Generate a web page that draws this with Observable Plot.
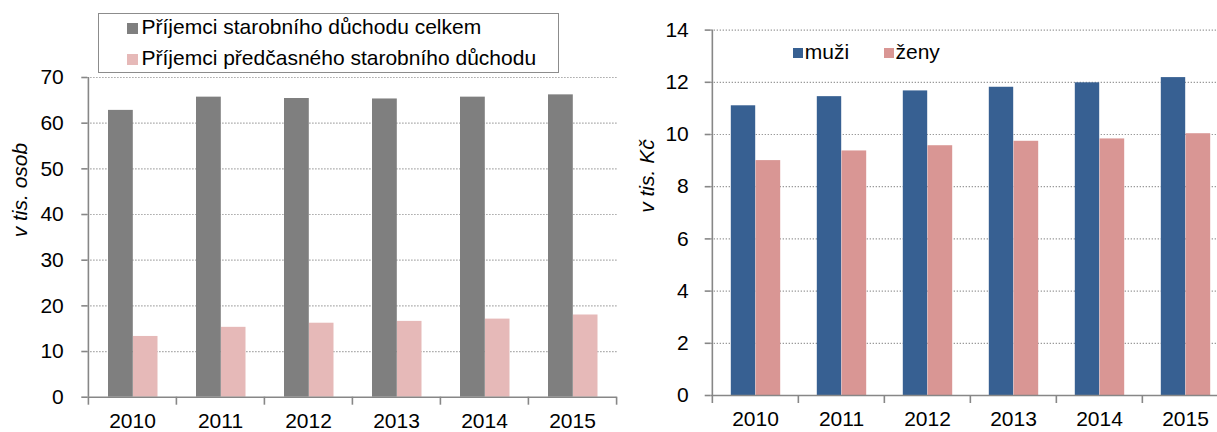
<!DOCTYPE html>
<html>
<head>
<meta charset="utf-8">
<script src="https://cdn.jsdelivr.net/npm/d3@7"></script>
<script src="https://cdn.jsdelivr.net/npm/@observablehq/plot@0.6"></script>
<style>
  html, body { margin: 0; padding: 0; background: #fff; }
  body { font-family: "Liberation Sans", Arial, sans-serif; }
  #wrap { position: relative; width: 1217px; height: 432px; overflow: hidden; background: #fff; }
  .chart { position: absolute; top: 0; width: 620px; height: 432px; }
  .chart svg { max-width: none !important; display: block; }
  .lg { position: absolute; font-size: 21px; line-height: 21px; color: #000; white-space: nowrap; }
  .sw { position: absolute; }
  #lbox { position: absolute; box-sizing: border-box; border: 1.5px solid #8c8c8c; background: #fff; }
</style>
</head>
<body>
<div id="wrap">
  <div id="left" class="chart" style="left:0px"></div>
  <div id="right" class="chart" style="left:617px"></div>
  <div id="legends"></div>
</div>
<script>
// ---- data ----
const years = ["2010", "2011", "2012", "2013", "2014", "2015"];
const celkem = [62.8, 65.7, 65.4, 65.3, 65.7, 66.2];
const predcasne = [13.3, 15.3, 16.2, 16.6, 17.1, 18.0];
const muzi = [11.1, 11.45, 11.67, 11.81, 11.98, 12.18];
const zeny = [9.0, 9.37, 9.57, 9.74, 9.83, 10.03];
const leftTicks = [0, 10, 20, 30, 40, 50, 60, 70];
const rightTicks = [0, 2, 4, 6, 8, 10, 12, 14];
const leftSeriesNames = ["Příjemci starobního důchodu celkem", "Příjemci předčasného starobního důchodu"];
const rightSeriesNames = ["muži", "ženy"];
const leftTitle = "v tis. osob";
const rightTitle = "v tis. Kč";

// ---- styles ----
const axisColor = "#878787";
const gridColor = "#8f8f8f";
const colGray = "#7f7f7f", colLightPink = "#e6b9b8", colBlue = "#376092", colPink = "#d99694";
const font = "'Liberation Sans', Arial, sans-serif";

const leftData = years.map((y, i) => ({year: y, a: celkem[i], b: predcasne[i]}));
const rightData = years.map((y, i) => ({year: y, a: muzi[i], b: zeny[i]}));

function chart({data, width, mL, mR, mT, mB, ydomain, ticks, colA, colB, insA, insB, padY, padX, title, titleDx}) {
  const bw = (width - mL - mR) / years.length;
  return Plot.plot({
    width, height: 432,
    marginLeft: mL, marginRight: mR, marginTop: mT, marginBottom: mB,
    style: {fontFamily: font, fontSize: "21px", color: "#000", background: "transparent", overflow: "visible"},
    x: {type: "band", domain: years, padding: 0},
    y: {domain: ydomain},
    marks: [
      Plot.gridY(ticks.filter(t => t > 0), {stroke: gridColor, strokeOpacity: 1, strokeWidth: 1.2, strokeDasharray: "1.2,1.8"}),
      Plot.barY(data, {x: "year", y: "a", fill: colA, insetLeft: insA[0], insetRight: bw - insA[1]}),
      Plot.barY(data, {x: "year", y: "b", fill: colB, insetLeft: insB[0], insetRight: bw - insB[1]}),
      Plot.ruleY([0], {stroke: axisColor, strokeWidth: 1.6}),
      Plot.ruleX([years[0]], {dx: -bw / 2, stroke: axisColor, strokeWidth: 1.6}),
      Plot.axisY({ticks, tickSize: 6, tickPadding: padY, stroke: axisColor, strokeWidth: 1.6, fill: "#000", label: null}),
      Plot.axisX({ticks: years, tickSize: 0, tickPadding: padX, fill: "#000", label: null}),
      Plot.axisX({ticks: years, tickSize: 8, tickPadding: 0, tickFormat: () => "", dx: -bw / 2, stroke: axisColor, strokeWidth: 1.6, label: null}),
      Plot.axisX({ticks: years.slice(-1), tickSize: 8, tickPadding: 0, tickFormat: () => "", dx: bw / 2, stroke: axisColor, strokeWidth: 1.6, label: null}),
      Plot.text([title], {text: d => d, frameAnchor: "left", rotate: -90, dx: titleDx, fontStyle: "italic", fill: "#000", fontSize: 21})
    ]
  });
}

document.getElementById("left").append(chart({
  data: leftData, width: 620, mL: 87.3, mR: 3.5, mT: 77, mB: 35.3,
  ydomain: [0, 70], ticks: leftTicks, colA: colGray, colB: colLightPink,
  insA: [20, 45], insB: [45, 69.7], padY: 18, padX: 16, title: leftTitle, titleDx: -67.3
}));
document.getElementById("right").append(chart({
  data: rightData, width: 620, mL: 93.7, mR: 8.5, mT: 29.6, mB: 37,
  ydomain: [0, 14], ticks: rightTicks, colA: colBlue, colB: colPink,
  insA: [18.8, 43.5], insB: [43.5, 68.5], padY: 16.4, padX: 16, title: rightTitle, titleDx: -64.3
}));

// ---- legends (HTML) ----
const lg = document.getElementById("legends");
function add(html) { lg.insertAdjacentHTML("beforeend", html); }
add(`<div id="lbox" style="left:98px;top:12.5px;width:461px;height:60px"></div>`);
const leftCols = [colGray, colLightPink];
leftSeriesNames.forEach((name, i) => {
  const base = 34 + i * 31;
  add(`<div class="sw" style="left:127px;top:${base - 11}px;width:11px;height:11px;background:${leftCols[i]}"></div>`);
  add(`<div class="lg" style="left:141.5px;top:${base - 17.8}px">${name}</div>`);
});
const rightCols = [colBlue, colPink];
const rx = [793.3, 884];
rightSeriesNames.forEach((name, i) => {
  const base = 58.3;
  add(`<div class="sw" style="left:${rx[i]}px;top:${base - 10}px;width:10px;height:10px;background:${rightCols[i]}"></div>`);
  add(`<div class="lg" style="left:${rx[i] + 11.5}px;top:${base - 17.8}px">${name}</div>`);
});
</script>
</body>
</html>
